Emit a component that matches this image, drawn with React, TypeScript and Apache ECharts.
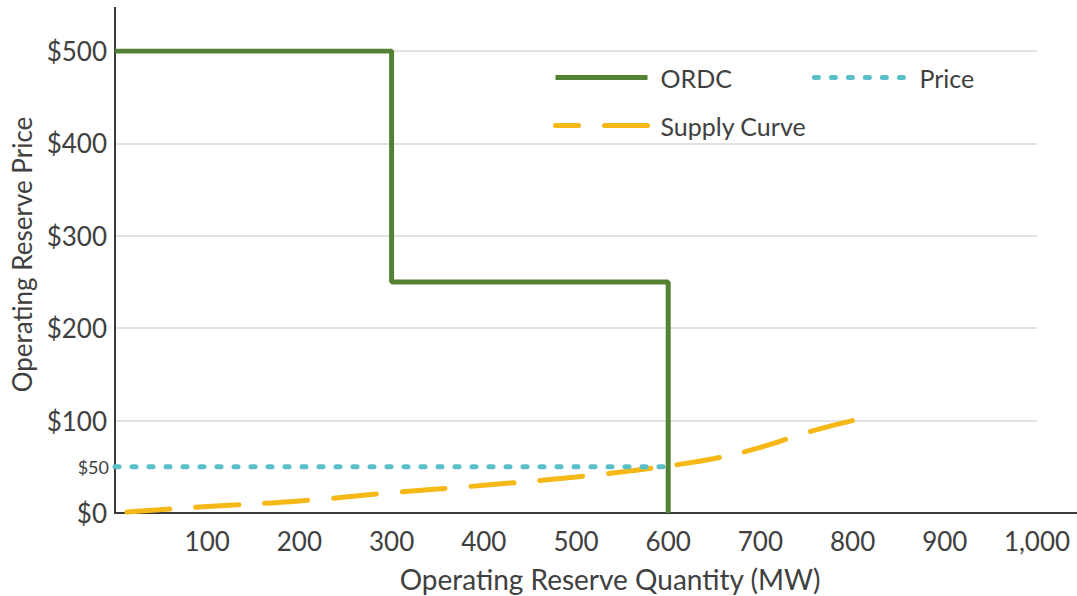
import React, { useEffect, useRef } from "react";
import * as echarts from "echarts";

const ordcData: [number, number][] = [[0, 500], [300, 500], [300, 250], [600, 250], [600, 0]];
const priceData: [number, number][] = [[0, 50], [600, 50]];
const supplyData: [number, number][] = [
  [0, 0], [100, 7], [200, 13], [300, 22], [400, 30], [500, 39], [600, 51], [650, 59], [700, 71], [750, 87], [800, 100],
];
const seriesNames = ["ORDC", "Price", "Supply Curve"];
const xTickValues = [100, 200, 300, 400, 500, 600, 700, 800, 900, 1000];
const xTickLabels = ["100", "200", "300", "400", "500", "600", "700", "800", "900", "1,000"];
const yTickValues = [0, 100, 200, 300, 400, 500];
const yTickLabels = ["$0", "$100", "$200", "$300", "$400", "$500"];
const yExtraTickValue = 50;
const yExtraTickLabel = "$50";

const FONT = "Lato, 'Open Sans', sans-serif";
const TXT = "#404040";
const GREEN = "#548235";
const TEAL = "#5bbfca";
const YELLOW = "#f5b817";

export default function App() {
  const ref = useRef<HTMLDivElement>(null);
  useEffect(() => {
    if (!ref.current) return;
    const chart = echarts.init(ref.current, undefined, { renderer: "svg" });
    const legendCommon = {
      left: 548,
      itemWidth: 92,
      itemHeight: 14,
      itemStyle: { opacity: 0 },
      textStyle: { fontFamily: FONT, fontSize: 25, color: TXT, padding: [0, 0, 0, 8] },
    };
    chart.setOption({
      animation: false,
      backgroundColor: "#ffffff",
      textStyle: { fontFamily: FONT, color: TXT },
      grid: { left: 115, right: 40, top: 51, bottom: 83, containLabel: false, outerBoundsMode: "none" },
      legend: [
        { ...legendCommon, lineStyle: { width: 5 }, data: [seriesNames[0], seriesNames[1]], top: 60, itemGap: 80 },
        { ...legendCommon, lineStyle: { width: 5, dashOffset: 20 }, data: [seriesNames[2]], top: 108 },
      ],
      xAxis: {
        type: "value",
        min: 0,
        max: 1000,
        interval: 100,
        name: "Operating Reserve Quantity (MW)",
        nameLocation: "middle",
        nameGap: 52,
        nameMoveOverlap: false,
        nameTextStyle: { fontFamily: FONT, fontSize: 28, color: TXT, padding: [0, 0, 0, 68] },
        axisLine: { show: true, lineStyle: { color: "#3a3a3a", width: 2 } },
        axisTick: { show: false },
        splitLine: { show: false },
        axisLabel: {
          fontFamily: FONT,
          fontSize: 26,
          color: TXT,
          margin: 15,
          formatter: (v: number) => {
            const i = xTickValues.indexOf(v);
            return i >= 0 ? xTickLabels[i] : "";
          },
        },
      },
      yAxis: [
        {
          type: "value",
          min: 0,
          max: 500,
          interval: 100,
          name: "Operating Reserve Price",
          nameLocation: "middle",
          nameGap: 80,
          nameMoveOverlap: false,
          nameTextStyle: { fontFamily: FONT, fontSize: 26, color: TXT, padding: [0, 0, 0, 55] },
          axisLine: { show: true, lineStyle: { color: "#3a3a3a", width: 2 } },
          axisTick: { show: false },
          splitLine: { show: true, lineStyle: { color: "#d9d9d9", width: 1.5 } },
          axisLabel: {
            fontFamily: FONT,
            fontSize: 26,
            color: TXT,
            margin: 8,
            formatter: (v: number) => {
              const i = yTickValues.indexOf(v);
              return i >= 0 ? yTickLabels[i] : "";
            },
          },
        },
        {
          type: "value",
          min: 0,
          max: 500,
          interval: 50,
          position: "left",
          axisLine: { show: false },
          axisTick: { show: false },
          splitLine: { show: false },
          axisLabel: {
            fontFamily: FONT,
            fontSize: 18,
            color: TXT,
            margin: 6,
            formatter: (v: number) => (v === yExtraTickValue ? yExtraTickLabel : ""),
          },
        },
      ],
      graphic: [
        { type: "line", shape: { x1: 115, y1: 7, x2: 115, y2: 52 }, style: { stroke: "#3a3a3a", lineWidth: 2 } },
        { type: "line", shape: { x1: 1036, y1: 513, x2: 1077, y2: 513 }, style: { stroke: "#3a3a3a", lineWidth: 2 } },
      ],
      series: [
        {
          name: seriesNames[2],
          type: "line",
          data: supplyData,
          smooth: true,
          symbol: "none",
          lineStyle: { color: YELLOW, width: 5, type: [43, 26], dashOffset: 57, cap: "round" },
          itemStyle: { color: YELLOW },
          z: 2,
        },
        {
          name: seriesNames[1],
          type: "line",
          data: priceData,
          symbol: "none",
          lineStyle: { color: TEAL, width: 5, type: [4, 13], cap: "round" },
          itemStyle: { color: TEAL },
          z: 3,
        },
        {
          name: seriesNames[0],
          type: "line",
          data: ordcData,
          symbol: "none",
          lineStyle: { color: GREEN, width: 5 },
          itemStyle: { color: GREEN },
          z: 4,
        },
      ],
    });
    return () => chart.dispose();
  }, []);
  return (
    <div
      ref={ref}
      style={{ position: "fixed", left: 0, top: 0, width: 1077, height: 596, background: "#fff" }}
    />
  );
}
